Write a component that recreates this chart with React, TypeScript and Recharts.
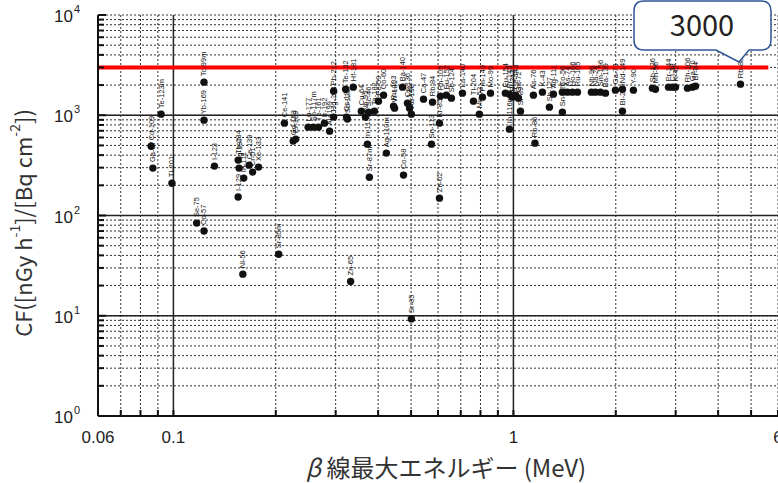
import React from "react";
import {
  CartesianGrid,
  ReferenceLine,
  Scatter,
  ScatterChart,
  XAxis,
  YAxis,
} from "recharts";

// nuclide names, beta max energy (MeV) and conversion factor
const nuclides = [
  "Ga-67", "Cd-109", "Te-123m", "Tl-201", "Se-75", "Co-57", "Yb-169", "Tc-99m",
  "I-123", "I-129", "Th-234", "Hg-197", "In-111", "Ce-139", "Cr-51", "Xe-133",
  "Ni-56", "Sr-85m", "Ce-141", "Gd-153", "Er-169", "Lu-177", "Sn-117m", "Tb-161",
  "Ir-192", "Au-199", "Hg-203", "Pb-212", "Te-132", "Cs-134", "Sb-125", "Hf-181",
  "Zn-65", "Cu-64", "Nb-95", "Sc-46", "Ta-182", "In-115m", "Sr-87m", "Fe-59",
  "Co-60", "Ag-110m", "Ru-103", "W-181", "Ba-140", "Co-58", "Cs-136", "I-131",
  "Au-198", "Sr-85", "Ca-47", "Rb-84", "Kr-85", "Sn-113", "Zn-62", "Rh-105",
  "Eu-152", "Sb-124", "La-140", "Tl-204", "Mn-52", "Pm-149", "Mo-99", "Eu-154",
  "Pr-143", "Bi-212", "Ce-143", "Ga-72", "In-116m", "Sr-89", "As-76", "K-43",
  "Rb-86", "Sb-127", "Ag-111", "Co-56", "Sn-125", "As-74", "Ho-166", "Ru-105",
  "Nb-96", "Na-24", "Sm-156", "Ba-139", "Ga-73", "Nd-149", "Bi-210", "Y-90",
  "Sb-126", "Mn-56", "Pr-144", "Cl-38", "K-42", "Rh-106", "Ga-70", "Br-84",
  "Rb-88",
];
const energies = [
  0.087, 0.086, 0.092, 0.099, 0.117, 0.123, 0.123, 0.123,
  0.132, 0.155, 0.155, 0.156, 0.161, 0.167, 0.171, 0.178,
  0.16, 0.204, 0.212, 0.225, 0.229, 0.249, 0.258, 0.267,
  0.278, 0.288, 0.296, 0.296, 0.321, 0.323, 0.325, 0.338,
  0.332, 0.357, 0.367, 0.375, 0.39, 0.372, 0.377, 0.401,
  0.415, 0.423, 0.444, 0.447, 0.472, 0.475, 0.488, 0.495,
  0.501, 0.501, 0.544, 0.578, 0.606, 0.574, 0.606, 0.61,
  0.635, 0.657, 0.708, 0.763, 0.794, 0.811, 0.856, 0.947,
  0.973, 0.993, 1.014, 1.034, 0.973, 1.049, 1.145, 1.217,
  1.157, 1.276, 1.311, 1.393, 1.393, 1.441, 1.491, 1.543,
  1.696, 1.743, 1.803, 1.865, 1.995, 2.092, 2.092, 2.254,
  2.563, 2.616, 2.858, 2.936, 2.996, 3.25, 3.362, 3.431,
  4.653,
];
const factors = [
  297, 490, 1026, 210, 84, 70, 894, 2140,
  311, 153, 357, 297, 236, 318, 271, 304,
  26, 41, 834, 552, 578, 761, 761, 761,
  834, 694, 958, 1740, 1820, 958, 915, 1906,
  22, 1099, 958, 1074, 1099, 515, 241, 1382,
  1586, 419, 1232, 1177, 1906, 253, 1320, 1177,
  1026, 9.3, 1447, 1351, 834, 515, 149, 1550,
  1586, 1481, 1661, 1382, 1026, 1515, 1661, 1661,
  1623, 1515, 1586, 1481, 727, 1099, 1586, 1700,
  527, 1204, 1623, 1700, 1074, 1700, 1700, 1700,
  1700, 1700, 1700, 1661, 1779, 1820, 1099, 1779,
  1863, 1820, 1906, 1906, 1906, 1863, 1906, 1950,
  2043,
];

const xLabels = [0.06, 0.1, 1, 6];
const xMinor = [0.07, 0.08, 0.09, 0.2, 0.3, 0.4, 0.5, 0.6, 0.7, 0.8, 0.9, 2, 3, 4, 5];
const xMajor = [0.1, 1];
const yDecades = [1, 10, 100, 1000, 10000];
const yMinor = [
  2, 3, 4, 5, 6, 7, 8, 9,
  20, 30, 40, 50, 60, 70, 80, 90,
  200, 300, 400, 500, 600, 700, 800, 900,
  2000, 3000, 4000, 5000, 6000, 7000, 8000, 9000,
];
const limit = 3000;

const data = nuclides.map((name, i) => ({ name, e: energies[i], cf: factors[i] }));
const xTicks = [...xLabels, ...xMinor].sort((a, b) => a - b);
const yTicks = [...yDecades, ...yMinor].sort((a, b) => a - b);

const W = 778;
const H = 483;

const exp = (v: number) => Math.round(Math.log10(v));

const LeftTick = (props: any) => {
  const { x, y, payload } = props;
  const major = yDecades.includes(payload.value);
  return (
    <g>
      <line x1={x} x2={x + (major ? 8 : 6)} y1={y} y2={y} stroke="#111" strokeWidth={2} />
      {major && (
        <text x={x - 18} y={y + 7} textAnchor="end" fontSize={17} fill="#222"
          fontFamily="Liberation Sans, Arial, sans-serif">
          10
          <tspan fontSize={11} dx={1} dy={-9}>{exp(payload.value)}</tspan>
        </text>
      )}
    </g>
  );
};

const RightTick = (props: any) => {
  const { x, y } = props;
  return <line x1={x - 6} x2={x} y1={y} y2={y} stroke="#111" strokeWidth={2} />;
};

const BottomTick = (props: any) => {
  const { x, y, payload } = props;
  const label = xLabels.includes(payload.value);
  return (
    <g>
      <line x1={x} x2={x} y1={y} y2={y - 6} stroke="#111" strokeWidth={2} />
      {label && (
        <text x={x} y={y + 27} textAnchor="middle" fontSize={17} fill="#222"
          fontFamily="Liberation Sans, Arial, sans-serif">
          {payload.value}
        </text>
      )}
    </g>
  );
};

const TopTick = (props: any) => {
  const { x, y } = props;
  return <line x1={x} x2={x} y1={y} y2={y + 6} stroke="#111" strokeWidth={2} />;
};

const Dot = (props: any) => {
  const { cx, cy, payload } = props;
  return (
    <g>
      <circle cx={cx} cy={cy} r={3.7} fill="#111" />
      <text
        x={cx}
        y={cy - 6}
        transform={`rotate(-90 ${cx} ${cy - 6})`}
        fontSize={7.5}
        fill="#111"
        dominantBaseline="central"
        fontFamily="Liberation Sans Narrow, Liberation Sans, Arial, sans-serif"
      >
        {payload.name}
      </text>
    </g>
  );
};

const App = () => {
  return (
    <div style={{ position: "absolute", left: 0, top: 0, width: W, height: H, background: "#fff" }}>
      <ScatterChart width={W} height={H} margin={{ top: 15, right: 0, left: 38, bottom: 37 }}>
        <CartesianGrid stroke="#333" strokeDasharray="2 2" strokeWidth={1} />
        <XAxis
          dataKey="e"
          type="number"
          scale="log"
          domain={[0.06, 6]}
          allowDataOverflow
          ticks={xTicks}
          interval={0}
          tickSize={0}
          tickMargin={0}
          height={30}
          axisLine={{ stroke: "#111", strokeWidth: 2 }}
          tick={<BottomTick />}
        />
        <XAxis
          xAxisId="top"
          orientation="top"
          type="number"
          scale="log"
          domain={[0.06, 6]}
          allowDataOverflow
          ticks={xTicks}
          interval={0}
          tickSize={0}
          tickMargin={0}
          height={0}
          axisLine={{ stroke: "#111", strokeWidth: 2 }}
          tick={<TopTick />}
        />
        <YAxis
          dataKey="cf"
          type="number"
          scale="log"
          domain={[1, 10000]}
          allowDataOverflow
          ticks={yTicks}
          interval={0}
          tickSize={0}
          tickMargin={0}
          width={60}
          axisLine={{ stroke: "#111", strokeWidth: 2 }}
          tick={<LeftTick />}
        />
        <YAxis
          yAxisId="right"
          orientation="right"
          type="number"
          scale="log"
          domain={[1, 10000]}
          allowDataOverflow
          ticks={yTicks}
          interval={0}
          tickSize={0}
          tickMargin={0}
          width={0}
          axisLine={{ stroke: "#111", strokeWidth: 2 }}
          tick={<RightTick />}
        />
        {xMajor.map((v) => (
          <ReferenceLine key={"x" + v} x={v} stroke="#222" strokeWidth={1.5} />
        ))}
        {yDecades.slice(1, -1).map((v) => (
          <ReferenceLine key={"y" + v} y={v} stroke="#222" strokeWidth={1.5} />
        ))}
        <Scatter data={data} shape={<Dot />} isAnimationActive={false} />
        <ReferenceLine
          segment={[{ x: 0.06, y: limit }, { x: 5.62, y: limit }]}
          stroke="#ff0000"
          strokeWidth={4}
          ifOverflow="visible"
        />
      </ScatterChart>
      <svg
        width={W}
        height={H}
        style={{ position: "absolute", left: 0, top: 0, pointerEvents: "none" }}
      >
        <text
          x={22}
          y={223}
          transform="rotate(-90 22 223)"
          textAnchor="middle"
          dominantBaseline="central"
          fontSize={22}
          fill="#333"
          fontFamily="Noto Sans CJK JP, Noto Sans, sans-serif"
        >
          CF([nGy h<tspan fontSize={14} dy={-8}>-1</tspan>
          <tspan dy={8}>]/[Bq cm</tspan>
          <tspan fontSize={14} dy={-8}>-2</tspan>
          <tspan dy={8}>])</tspan>
        </text>
        <text
          x={446}
          y={477}
          textAnchor="middle"
          fontSize={24}
          fill="#333"
          fontFamily="Noto Sans CJK JP, Noto Sans, sans-serif"
        >
          <tspan fontStyle="italic">β</tspan> 線最大エネルギー (MeV)
        </text>
        <path
          d="M 644 1 H 761 Q 771 1 771 11 V 40 Q 771 50 761 50 H 749 L 739 62 L 716 50 H 644 Q 634 50 634 40 V 11 Q 634 1 644 1 Z"
          fill="#fff"
          stroke="#2f5597"
          strokeWidth={1.5}
        />
        <text
          x={702}
          y={36}
          textAnchor="middle"
          fontSize={29}
          fill="#222"
          fontFamily="Noto Sans CJK JP, Noto Sans, sans-serif"
        >
          3000
        </text>
      </svg>
    </div>
  );
};

export default App;
